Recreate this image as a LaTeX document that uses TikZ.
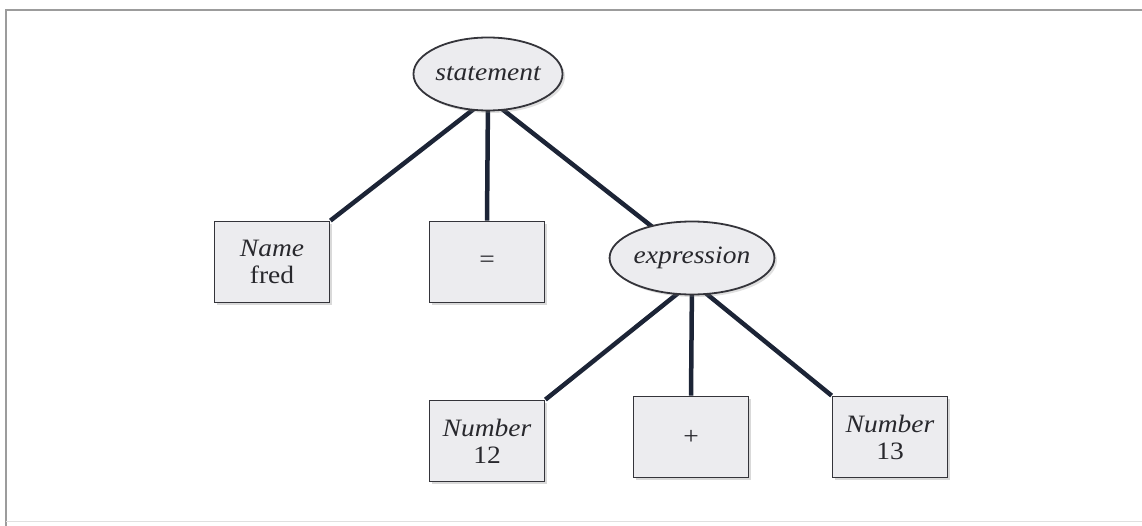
\documentclass[tikz,border=0pt]{standalone}
\usepackage{fontspec}
\setmainfont{Liberation Serif}[FakeStretch=1.1]
\usetikzlibrary{shapes.geometric,shadows,backgrounds}
\definecolor{edgeink}{HTML}{1C2436}
\definecolor{boxfill}{HTML}{ECECEF}
\definecolor{boxline}{HTML}{34343A}
\definecolor{labelink}{HTML}{28282D}
\definecolor{framegray}{HTML}{9C9C9C}
\tikzset{
  x=1pt, y=-1pt,
  every node/.style={font=\fontsize{25}{25}\selectfont, text=labelink},
  leaf/.style={draw=boxline, line width=1.8pt, fill=boxfill, minimum width=115pt,
    minimum height=81pt, inner sep=0pt, align=center,
    drop shadow={shadow xshift=2.5pt, shadow yshift=-2.5pt, opacity=0.3}},
  inner/.style={ellipse, draw=boxline, line width=1.8pt, fill=boxfill,
    minimum width=140pt, minimum height=73pt, inner sep=0pt,
    font=\fontsize{25}{25}\selectfont\itshape,
    drop shadow={shadow xshift=2.5pt, shadow yshift=-2.5pt, opacity=0.25}},
  branch/.style={draw=edgeink, line width=4.5pt}
}
\begin{document}
\begin{tikzpicture}
  \useasboundingbox (0,0) rectangle (1142,526);
  % outer frame
  \draw[framegray, line width=1.6pt] (6,526) -- (6,10) -- (1142,10);
  \draw[black!12, line width=1pt] (6,521) -- (1142,521);

  % parse tree nodes
  \node[inner] (stmt) at (488,74) {statement};
  \node[leaf] (name) at (272,262) {\textit{Name}\\[2pt]fred};
  \node[leaf] (eq) at (487,262) {=};
  \node[inner] (expr) at (692,258) {expression};
  \node[leaf] (n12) at (487,441) {\textit{Number}\\[2pt]12};
  \node[leaf] (plus) at (691,437) {+};
  \node[leaf] (n13) at (890,437) {\textit{Number}\\[2pt]13};

  % hubs just above the bottom of each ellipse, hidden under its fill
  \coordinate (stmthub) at ([yshift=-24pt]stmt.center);
  \coordinate (exprhub) at ([yshift=-24pt]expr.center);

  % branches, behind the nodes
  \begin{scope}[on background layer]
    \draw[branch] (stmthub) -- (name.north east);
    \draw[branch] (stmthub) -- (eq.north);
    \draw[branch] (stmthub) -- (expr.center);
    \draw[branch] (exprhub) -- (n12.north east);
    \draw[branch] (exprhub) -- (plus.north);
    \draw[branch] (exprhub) -- (n13.north west);
  \end{scope}
\end{tikzpicture}
\end{document}
